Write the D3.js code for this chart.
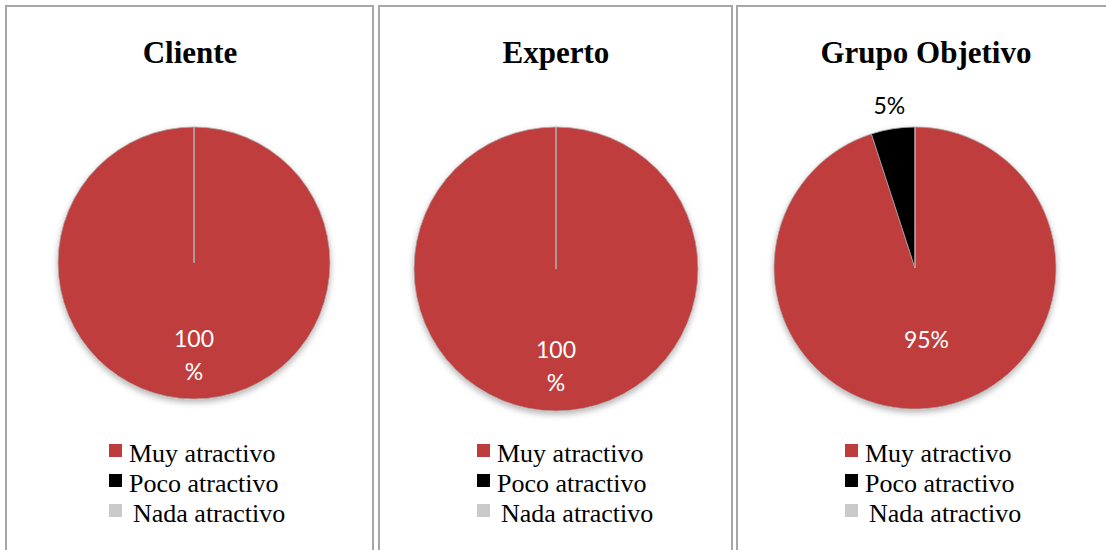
<!DOCTYPE html>
<html>
<head>
<meta charset="utf-8">
<script src="https://cdn.jsdelivr.net/npm/d3@7"></script>
<style>
  body { margin: 0; background: #fff; }
  svg { display: block; }
</style>
</head>
<body>
<div id="container"></div>
<script>
const width = 1106;
const height = 550;

// data
const categories = ["Muy atractivo", "Poco atractivo", "Nada atractivo"];
const groups = ["Cliente", "Experto", "Grupo Objetivo"];
const cliente = [100, 0, 0];
const experto = [100, 0, 0];
const grupoObjetivo = [95, 5, 0];
const series = [cliente, experto, grupoObjetivo];

const colors = ["#BF3C3D", "#000000", "#CACACA"];

// layout per panel
const panels = [
  { x0: 6,   x1: 373,  cx: 194, cy: 263, r: 136, titleX: 190, legX: 109, inR: 0.68 },
  { x0: 379, x1: 732,  cx: 556, cy: 269, r: 142, titleX: 556, legX: 477, inR: 0.68 },
  { x0: 737, x1: 1112, cx: 915, cy: 268, r: 141, titleX: 926, legX: 845, inR: 0.52 }
];

const svg = d3.select("#container")
  .append("svg")
  .attr("width", width)
  .attr("height", height);

const defs = svg.append("defs");
const filt = defs.append("filter")
  .attr("id", "shadow")
  .attr("x", "-20%").attr("y", "-20%")
  .attr("width", "140%").attr("height", "140%");
filt.append("feDropShadow")
  .attr("dx", 0).attr("dy", 3)
  .attr("stdDeviation", 3)
  .attr("flood-color", "#000")
  .attr("flood-opacity", 0.3);

const pie = d3.pie().sort(null).value(d => d);

panels.forEach((p, i) => {
  // panel frame
  svg.append("rect")
    .attr("x", p.x0)
    .attr("y", 6)
    .attr("width", p.x1 - p.x0)
    .attr("height", height + 20)
    .attr("fill", "none")
    .attr("stroke", "#A6A6A6")
    .attr("stroke-width", 2);

  const g = svg.append("g");

  g.append("text")
    .attr("x", p.titleX)
    .attr("y", 63)
    .attr("text-anchor", "middle")
    .attr("font-family", "'Liberation Serif', 'Times New Roman', serif")
    .attr("font-weight", "bold")
    .attr("font-size", 31)
    .attr("fill", "#000")
    .text(groups[i]);

  const arcs = pie(series[i]);
  const arc = d3.arc().innerRadius(0).outerRadius(p.r);

  const pg = g.append("g")
    .attr("transform", `translate(${p.cx},${p.cy})`);

  pg.append("g")
    .attr("filter", "url(#shadow)")
    .selectAll("path")
    .data(arcs)
    .join("path")
    .attr("d", arc)
    .attr("fill", (d, j) => colors[j])
    .attr("stroke", "#B0A6A6")
    .attr("stroke-width", 0.8);

  // labels
  const total = d3.sum(series[i]);
  arcs.filter(d => d.value > 0).forEach(d => {
    const pct = Math.round(d.value / total * 100);
    const mid = (d.startAngle + d.endAngle) / 2;
    const inside = pct >= 50;
    const lr = inside ? p.r * p.inR : p.r * 1.16;
    const lx = Math.sin(mid) * lr;
    const ly = -Math.cos(mid) * lr;
    const t = pg.append("text")
      .attr("text-anchor", "middle")
      .attr("font-family", "Lato, 'Open Sans', sans-serif")
      .attr("font-size", 23)
      .attr("fill", inside ? "#fff" : "#000");
    if (pct === 100) {
      t.append("tspan").attr("x", lx).attr("y", ly - 8).text(String(pct));
      t.append("tspan").attr("x", lx).attr("y", ly + 25).text("%");
    } else {
      t.attr("x", lx).attr("y", ly + 8).text(pct + "%");
    }
  });

  // legend
  const leg = g.append("g");
  categories.forEach((c, j) => {
    const y = 462 + j * 30;
    leg.append("rect")
      .attr("x", p.legX)
      .attr("y", y - 18)
      .attr("width", 13)
      .attr("height", 13)
      .attr("fill", colors[j]);
    leg.append("text")
      .attr("x", p.legX + (j === 2 ? 24 : 20))
      .attr("y", y)
      .attr("font-family", "'Liberation Serif', 'Times New Roman', serif")
      .attr("font-size", 26)
      .attr("fill", "#000")
      .text(c);
  });
});
</script>
</body>
</html>
